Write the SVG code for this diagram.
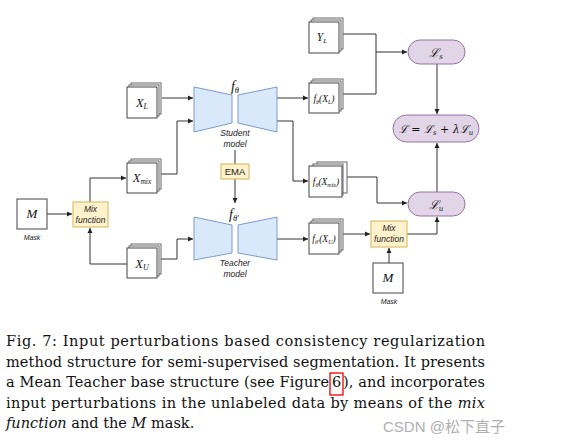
<svg xmlns="http://www.w3.org/2000/svg" width="569" height="446" viewBox="0 0 569 446">
<style>
.conn{fill:none;stroke:#333;stroke-width:1}
.back{fill:#fff;stroke:#666;stroke-width:1}
.front{fill:#fff;stroke:#444;stroke-width:1}
.trap{fill:#dae8fc;stroke:#7b9bcb;stroke-width:1}
.yel{fill:#fff2cc;stroke:#d6b656;stroke-width:1}
.pill{fill:#e1d5e7;stroke:#9673a6;stroke-width:1}
.math{font-family:"Liberation Serif",serif;font-style:italic;fill:#111}
.scr{font-family:"DejaVu Serif",serif;font-style:italic;fill:#111}
.lab{font-family:"Liberation Sans",Arial,sans-serif;font-style:italic;fill:#222}
.cap{font-family:"DejaVu Serif",serif;font-size:14.5px;fill:#111}
</style>
<defs>
<marker id="ah" markerWidth="6" markerHeight="6" refX="5" refY="3" orient="auto" markerUnits="userSpaceOnUse">
<path d="M0,0.5 L5,3 L0,5.5 Z" fill="#222"/>
</marker>
</defs>
<rect width="569" height="446" fill="#fff"/>

<g id="connectors">
<path class="conn" d="M162,98 H193" marker-end="url(#ah)"/>
<path class="conn" d="M161,174 H177 V121 H193" marker-end="url(#ah)"/>
<path class="conn" d="M161,259 H177 V239 H193" marker-end="url(#ah)"/>
<path class="conn" d="M47,214 H72" marker-end="url(#ah)"/>
<path class="conn" d="M90,202 V178 H126" marker-end="url(#ah)"/>
<path class="conn" d="M127,264 H90 V228" marker-end="url(#ah)"/>
<path class="conn" d="M277,98 H308" marker-end="url(#ah)"/>
<path class="conn" d="M277,121 H293 V181 H308" marker-end="url(#ah)"/>
<path class="conn" d="M277,239 H308" marker-end="url(#ah)"/>
<path class="conn" d="M235,150 V164"/>
<path class="conn" d="M235,179 V203" marker-end="url(#ah)"/>
<path class="conn" d="M343,34 H376 V94 H343"/>
<path class="conn" d="M376,52 H407" marker-end="url(#ah)"/>
<path class="conn" d="M437,64 V114" marker-end="url(#ah)"/>
<path class="conn" d="M437,192 V143" marker-end="url(#ah)"/>
<path class="conn" d="M347,177 H377 V203 H407" marker-end="url(#ah)"/>
<path class="conn" d="M343,234 H370" marker-end="url(#ah)"/>
<path class="conn" d="M407,234 H437 V217" marker-end="url(#ah)"/>
<path class="conn" d="M389,263 V248" marker-end="url(#ah)"/>
</g>

<g id="XL">
<rect class="back" x="131" y="83" width="30" height="31"/>
<rect class="back" x="129" y="85" width="30" height="31"/>
<rect class="front" x="127" y="87" width="30" height="31"/>
<text class="math" x="142" y="107" font-size="12.5" text-anchor="middle">X<tspan font-size="8" dy="2">L</tspan></text>
</g>

<g id="Xmix">
<rect class="back" x="131" y="159" width="30" height="30"/>
<rect class="back" x="129" y="161" width="30" height="30"/>
<rect class="front" x="127" y="163" width="30" height="30"/>
<text class="math" x="142" y="182" font-size="12.5" text-anchor="middle">X<tspan font-size="7.5" dy="2">mix</tspan></text>
</g>

<g id="XU">
<rect class="back" x="131" y="244" width="30" height="30"/>
<rect class="back" x="129" y="246" width="30" height="30"/>
<rect class="front" x="127" y="248" width="30" height="30"/>
<text class="math" x="142" y="268" font-size="12.5" text-anchor="middle">X<tspan font-size="8" dy="2">U</tspan></text>
</g>

<g id="M1">
<rect class="front" x="17" y="199" width="30" height="30"/>
<text class="math" x="32" y="218" font-size="13" text-anchor="middle">M</text>
<text class="lab" x="32" y="240" font-size="7" text-anchor="middle">Mask</text>
</g>

<g id="mix1">
<rect class="yel" x="73" y="202" width="35" height="25"/>
<text class="lab" x="90.5" y="212" font-size="8.5" text-anchor="middle">Mix</text>
<text class="lab" x="90.5" y="223" font-size="8.5" text-anchor="middle">function</text>
</g>

<g id="student">
<polygon class="trap" points="194,87 232,95 232,123 194,132"/>
<polygon class="trap" points="238,95 277,87 277,132 238,123"/>
<text class="math" x="235" y="91" font-size="14" text-anchor="middle">f<tspan font-size="8.5" dy="2">θ</tspan></text>
<text class="lab" x="235" y="136" font-size="8.5" text-anchor="middle">Student</text>
<text class="lab" x="235" y="147" font-size="8.5" text-anchor="middle">model</text>
</g>

<g id="ema">
<rect class="yel" x="221" y="164" width="28" height="15"/>
<text x="235" y="175" font-size="9.5" text-anchor="middle" font-family="Liberation Sans,Arial,sans-serif" fill="#222">EMA</text>
</g>

<g id="teacher">
<polygon class="trap" points="194,217 232,225 232,253 194,260"/>
<polygon class="trap" points="238,225 277,217 277,260 238,253"/>
<text class="math" x="234" y="219" font-size="14" text-anchor="middle">f<tspan font-size="8.5" dy="2">θ′</tspan></text>
<text class="lab" x="235" y="266" font-size="8.5" text-anchor="middle">Teacher</text>
<text class="lab" x="235" y="277" font-size="8.5" text-anchor="middle">model</text>
</g>

<g id="YL">
<rect class="back" x="313" y="18" width="30" height="31"/>
<rect class="back" x="311" y="20" width="30" height="31"/>
<rect class="front" x="309" y="22" width="30" height="31"/>
<text class="math" x="322" y="41" font-size="11.5" text-anchor="middle">Y<tspan font-size="7" dy="2">L</tspan></text>
</g>

<g id="fXL">
<rect class="back" x="313" y="79" width="30" height="30"/>
<rect class="back" x="311" y="81" width="30" height="30"/>
<rect class="front" x="309" y="83" width="30" height="30"/>
<text class="math" x="324" y="102" font-size="9.5" text-anchor="middle">f<tspan font-size="6" dy="2">θ</tspan><tspan dy="-2">(X</tspan><tspan font-size="6" dy="2">L</tspan><tspan dy="-2">)</tspan></text>
</g>

<g id="fXmix">
<rect class="back" x="317" y="162" width="30" height="31"/>
<rect class="back" x="313" y="164" width="30" height="31"/>
<rect class="front" x="309" y="166" width="33" height="31"/>
<text class="math" x="326" y="185" font-size="9.5" text-anchor="middle">f<tspan font-size="6" dy="2">θ</tspan><tspan dy="-2">(X</tspan><tspan font-size="6" dy="2">mix</tspan><tspan dy="-2">)</tspan></text>
</g>

<g id="fXU">
<rect class="back" x="313" y="219" width="30" height="31"/>
<rect class="back" x="311" y="221" width="30" height="31"/>
<rect class="front" x="309" y="223" width="30" height="31"/>
<text class="math" x="324" y="242" font-size="9.5" text-anchor="middle">f<tspan font-size="6" dy="2">θ′</tspan><tspan dy="-2">(X</tspan><tspan font-size="6" dy="2">U</tspan><tspan dy="-2">)</tspan></text>
</g>

<g id="mix2">
<rect class="yel" x="371" y="221" width="36" height="26"/>
<text class="lab" x="389" y="231" font-size="8.5" text-anchor="middle">Mix</text>
<text class="lab" x="389" y="242" font-size="8.5" text-anchor="middle">function</text>
</g>

<g id="M2">
<rect class="front" x="373" y="263" width="30" height="30"/>
<text class="math" x="388" y="282" font-size="13" text-anchor="middle">M</text>
<text class="lab" x="389" y="304" font-size="7" text-anchor="middle">Mask</text>
</g>

<g id="Ls">
<rect class="pill" x="408" y="40" width="57" height="24" rx="12"/>
<text class="scr" x="436" y="57" font-size="12" text-anchor="middle">ℒ<tspan font-size="7" dy="2">s</tspan></text>
</g>

<g id="Ltot">
<rect class="pill" x="393" y="115" width="86" height="27" rx="13.5"/>
<text class="scr" x="436" y="133" font-size="11" text-anchor="middle">ℒ <tspan font-style="normal">=</tspan> ℒ<tspan font-size="7" dy="2">s</tspan><tspan dy="-2" font-style="normal"> + </tspan>λℒ<tspan font-size="7" dy="2">u</tspan></text>
</g>

<g id="Lu">
<rect class="pill" x="408" y="192" width="57" height="24" rx="12"/>
<text class="scr" x="436" y="209" font-size="12" text-anchor="middle">ℒ<tspan font-size="7" dy="2">u</tspan></text>
</g>

<g id="caption">
<text class="cap" x="6" y="346" textLength="479" lengthAdjust="spacing">Fig. 7: Input perturbations based consistency regularization</text>
<text class="cap" x="6" y="367" textLength="479" lengthAdjust="spacing">method structure for semi-supervised segmentation. It presents</text>
<text class="cap" x="6" y="387" textLength="323" lengthAdjust="spacing">a Mean Teacher base structure (see Figure</text>
<text class="cap" x="332" y="387">6</text>
<rect x="330" y="373" width="13" height="22" fill="none" stroke="#e00" stroke-width="1.3"/>
<text class="cap" x="343" y="387" textLength="142" lengthAdjust="spacing">), and incorporates</text>
<text class="cap" x="6" y="408" textLength="479" lengthAdjust="spacing">input perturbations in the unlabeled data by means of the <tspan font-style="italic">mix</tspan></text>
<text class="cap" x="6" y="428"><tspan font-style="italic">function</tspan> and the <tspan font-style="italic">M</tspan> mask.</text>
</g>

<text x="383" y="432" font-size="15" font-family="Liberation Sans,'Noto Sans CJK SC',sans-serif" fill="#b0b0b0">CSDN @松下直子</text>
</svg>
